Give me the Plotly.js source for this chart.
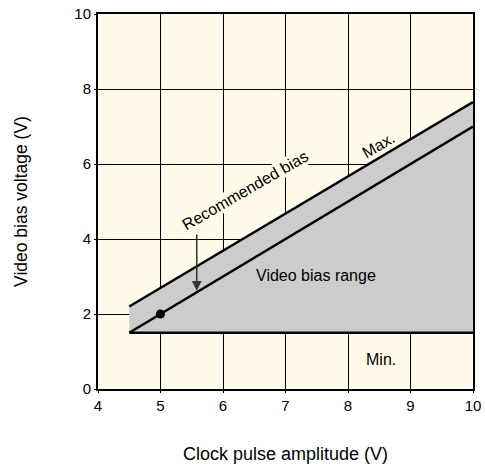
<!DOCTYPE html>
<html><head><meta charset="utf-8">
<script src="https://cdn.plot.ly/plotly-3.0.1.min.js"></script>
<style>html,body{margin:0;padding:0;background:#fff}</style>
</head><body>
<div id="chart" style="width:485px;height:464px"></div>
<script>
const ampX = [4.5, 10];
const maxBias = [2.2, 7.65];
const minBias = [1.5, 1.5];
const recX = [4.5, 10];
const recBias = [1.5, 7.0];
const dotX = [5];
const dotY = [2];
const xTicks = [4, 5, 6, 7, 8, 9, 10];
const yTicks = [0, 2, 4, 6, 8, 10];

const font = {family: 'Liberation Sans, Arial, sans-serif', color: '#000'};
const f = s => Object.assign({size: s}, font);

const traces = [
  {x: ampX, y: minBias, mode: 'lines', line: {color: '#000', width: 2.5}, hoverinfo: 'skip'},
  {x: ampX, y: maxBias, mode: 'lines', fill: 'tonexty', fillcolor: '#cccccc', line: {color: '#000', width: 2.5}, hoverinfo: 'skip'},
  {x: recX, y: recBias, mode: 'lines', line: {color: '#000', width: 2.5}, hoverinfo: 'skip'},
  {x: dotX, y: dotY, mode: 'markers', marker: {color: '#000', size: 9}, hoverinfo: 'skip'}
];

const layout = {
  width: 485, height: 464,
  margin: {l: 98, r: 12, t: 14, b: 75},
  paper_bgcolor: '#ffffff',
  plot_bgcolor: '#fffbe8',
  showlegend: false,
  font: f(15),
  xaxis: {
    range: [4, 10], tickvals: xTicks, ticktext: xTicks.map(String),
    showgrid: true, gridcolor: '#000', gridwidth: 1,
    zeroline: false, showline: true, linecolor: '#000', linewidth: 2, mirror: true,
    ticks: 'outside', ticklen: 2, tickcolor: '#000',
    layer: 'above traces', fixedrange: true,
    tickfont: f(15),
    title: {text: 'Clock pulse amplitude (V)', font: f(18), standoff: 36}
  },
  yaxis: {
    range: [0, 10], tickvals: yTicks, ticktext: yTicks.map(String),
    showgrid: true, gridcolor: '#000', gridwidth: 1,
    zeroline: false, showline: true, linecolor: '#000', linewidth: 2, mirror: true,
    ticks: 'outside', ticklen: 2, tickcolor: '#000',
    layer: 'above traces', fixedrange: true,
    tickfont: f(15),
    title: {text: 'Video bias voltage (V)', font: f(17.5), standoff: 42}
  },
  annotations: [
    {x: 6.35, y: 5.3, text: 'Recommended bias', showarrow: false, textangle: -30, bgcolor: '#fffbe8', borderpad: 0, font: f(16)},
    {x: 8.48, y: 6.5, text: 'Max.', showarrow: false, textangle: -30, bgcolor: '#fffbe8', borderpad: 0, font: f(16)},
    {x: 7.49, y: 3.02, text: 'Video bias range', showarrow: false, bgcolor: '#cccccc', borderpad: 1, font: f(16)},
    {x: 8.53, y: 0.78, text: 'Min.', showarrow: false, font: f(16)},
    {x: 5.58, y: 2.62, ax: 5.58, ay: 4.16, axref: 'x', ayref: 'y', text: '', showarrow: true,
     arrowhead: 2, arrowsize: 1.3, arrowwidth: 1.5, arrowcolor: '#333'}
  ]
};

Plotly.newPlot('chart', traces, layout, {displayModeBar: false, staticPlot: true});
</script>
</body></html>
